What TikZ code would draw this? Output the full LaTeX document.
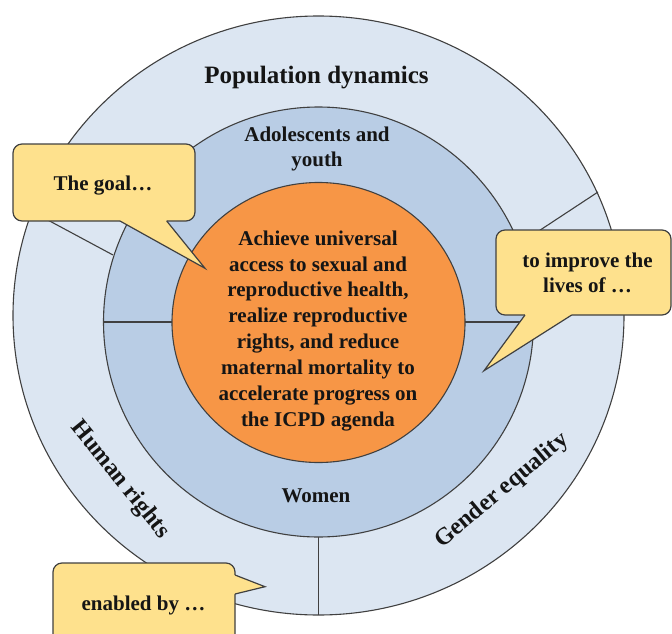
\documentclass[tikz,border=0pt]{standalone}
\usepackage{fontspec}
\setmainfont{Liberation Serif}
\definecolor{outerblue}{HTML}{DCE6F2}
\definecolor{midblue}{HTML}{B9CDE5}
\definecolor{orangefill}{HTML}{F79646}
\definecolor{calloutyellow}{HTML}{FEE18D}
\definecolor{linegray}{HTML}{404040}
\definecolor{textblack}{HTML}{151515}
\begin{document}
\begin{tikzpicture}[x=1pt,y=-1pt,
  ringline/.style={draw=linegray, line width=1.1pt},
  divider/.style={draw=linegray, line width=1.1pt},
  calloutbox/.style={fill=calloutyellow, draw=linegray, line width=1.2pt, rounded corners=9pt},
  calloutedge/.style={draw=linegray, line width=1.2pt, line join=miter},
  lbl/.style={font=\fontsize{21}{25}\selectfont\bfseries, text=textblack, inner sep=0pt, align=center},
  biglbl/.style={font=\fontsize{25}{30}\selectfont\bfseries, text=textblack, inner sep=0pt},
  ringlbl/.style={font=\fontsize{24}{28}\selectfont\bfseries, text=textblack, inner sep=0pt},
]
\useasboundingbox (0,0) rectangle (672,634);
\clip (0,0) rectangle (672,634);

% outer ring
\draw[ringline, fill=outerblue] (318.5,315.5) ellipse [x radius=305.5pt, y radius=299.5pt];

% dividers of the outer ring
\coordinate (ulin) at (113,255);
\coordinate (ulout) at (31,211);
\coordinate (urin) at (519,244);
\coordinate (urout) at (598,192);
\coordinate (bin) at (318.5,537);
\coordinate (bout) at (318.5,615);
\draw[divider] (ulin) -- (ulout);
\draw[divider] (urin) -- (urout);
\draw[divider] (bin) -- (bout);

% middle ring
\draw[ringline, fill=midblue] (318.5,322) circle [radius=215pt];
\coordinate (hlo) at (103.5,322);
\coordinate (hli) at (172,322);
\coordinate (hri) at (465,322);
\coordinate (hro) at (533.5,322);
\draw[divider] (hlo) -- (hli);
\draw[divider] (hri) -- (hro);

% centre
\draw[ringline, fill=orangefill] (318.5,322.5) ellipse [x radius=146.5pt, y radius=140pt];

% texts
\node[biglbl, anchor=base] (popdyn) at (316.5,83) {Population dynamics};
\node[lbl] (adol) at (317,149.4) {Adolescents and\\youth};
\node[lbl, font=\fontsize{21}{25.85}\selectfont\bfseries] (goaltext) at (318,330.7)
  {Achieve universal\\access to sexual and\\reproductive health,\\realize reproductive\\rights, and reduce\\maternal mortality to\\accelerate progress on\\the ICPD agenda};
\node[lbl, anchor=base] (women) at (316,502.7) {Women};
\node[ringlbl, rotate=-51] (human) at (120,480) {Human rights};
\node[ringlbl, rotate=40] (gender) at (502,491) {Gender equality};

% callout 1: The goal
\draw[calloutbox] (13,144) rectangle (195,221);
\coordinate (c1a) at (120,221);
\coordinate (c1b) at (166.7,221);
\coordinate (c1t) at (205,268.3);
\fill[calloutyellow] (120,218.5) -- (c1a) -- (c1t) -- (c1b) -- (166.7,218.5) -- cycle;
\draw[calloutedge] (c1a) -- (c1t) -- (c1b);
\node[lbl, anchor=base] (goal) at (103,190.7) {The goal…};

% callout 2: to improve the lives of
\draw[calloutbox] (496,230) rectangle (671,315);
\coordinate (c2a) at (525,315);
\coordinate (c2b) at (571.7,315);
\coordinate (c2t) at (484,370.7);
\fill[calloutyellow] (525,312.5) -- (c2a) -- (c2t) -- (c2b) -- (571.7,312.5) -- cycle;
\draw[calloutedge] (c2a) -- (c2t) -- (c2b);
\node[lbl] (improve) at (587.5,272.7) {to improve the\\lives of …};

% callout 3: enabled by
\draw[calloutbox] (53,563) rectangle (235,660);
\coordinate (c3a) at (235,575);
\coordinate (c3b) at (235,594);
\coordinate (c3t) at (265,586.7);
\fill[calloutyellow] (232.5,575) -- (c3a) -- (c3t) -- (c3b) -- (232.5,594) -- cycle;
\draw[calloutedge] (c3a) -- (c3t) -- (c3b);
\node[lbl, anchor=base] (enabled) at (143.5,610) {enabled by …};
\end{tikzpicture}
\end{document}
